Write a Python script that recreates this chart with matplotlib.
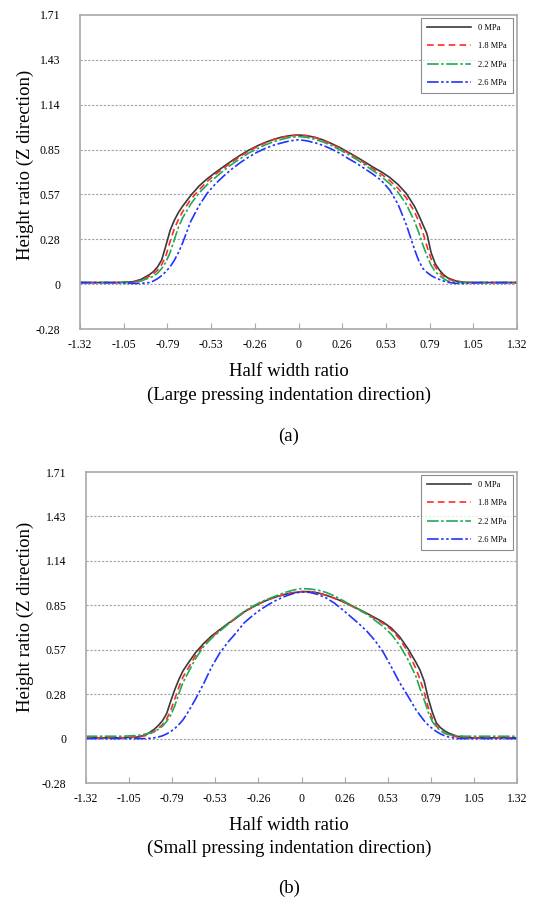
import matplotlib
matplotlib.use("Agg")
import matplotlib.pyplot as plt

# ---------------- data ----------------
x_grid = [-1.32, -1.1, -1.0, -0.95, -0.9, -0.875, -0.85, -0.825, -0.8, -0.775, -0.75, -0.725,
          -0.7, -0.65, -0.6, -0.55, -0.5, -0.45, -0.4, -0.35, -0.3, -0.25, -0.2, -0.15, -0.1, -0.05, 0.0,
          0.05, 0.1, 0.15, 0.2, 0.25, 0.3, 0.35, 0.4, 0.45, 0.5, 0.55, 0.6, 0.65, 0.7, 0.725,
          0.75, 0.775, 0.8, 0.825, 0.85, 0.875, 0.9, 0.95, 1.0, 1.1, 1.32]

labels = ["0 MPa", "1.8 MPa", "2.2 MPa", "2.6 MPa"]

# (a) Large pressing indentation direction
a_0MPa = [0.01, 0.01, 0.015, 0.03, 0.06, 0.08, 0.11, 0.155, 0.245, 0.34, 0.405, 0.455,
          0.495, 0.565, 0.625, 0.672, 0.712, 0.75, 0.787, 0.822, 0.853, 0.88, 0.903, 0.922, 0.937, 0.946, 0.95,
          0.946, 0.935, 0.918, 0.895, 0.87, 0.84, 0.81, 0.778, 0.745, 0.715, 0.68, 0.635, 0.578, 0.495, 0.44,
          0.38, 0.32, 0.20, 0.13, 0.09, 0.06, 0.04, 0.02, 0.012, 0.01, 0.01]
a_18MPa = [0.01, 0.01, 0.012, 0.025, 0.05, 0.065, 0.09, 0.125, 0.18, 0.27, 0.35, 0.41,
           0.46, 0.54, 0.60, 0.655, 0.70, 0.74, 0.778, 0.815, 0.847, 0.875, 0.90, 0.92, 0.935, 0.945, 0.95,
           0.945, 0.933, 0.915, 0.892, 0.865, 0.835, 0.805, 0.77, 0.735, 0.70, 0.66, 0.61, 0.55, 0.46, 0.40,
           0.33, 0.24, 0.16, 0.11, 0.075, 0.05, 0.035, 0.015, 0.01, 0.01, 0.01]
a_22MPa = [0.01, 0.01, 0.01, 0.02, 0.04, 0.05, 0.07, 0.10, 0.14, 0.20, 0.28, 0.36,
           0.42, 0.51, 0.58, 0.635, 0.68, 0.725, 0.765, 0.80, 0.835, 0.862, 0.887, 0.907, 0.923, 0.935, 0.94,
           0.935, 0.922, 0.905, 0.882, 0.855, 0.826, 0.795, 0.76, 0.722, 0.685, 0.64, 0.585, 0.51, 0.40, 0.33,
           0.25, 0.18, 0.12, 0.08, 0.055, 0.035, 0.02, 0.01, 0.01, 0.01, 0.01]
a_26MPa = [0.01, 0.01, 0.005, 0.005, 0.01, 0.02, 0.035, 0.055, 0.08, 0.11, 0.15, 0.20,
           0.26, 0.40, 0.50, 0.58, 0.64, 0.69, 0.735, 0.775, 0.81, 0.84, 0.865, 0.885, 0.90, 0.913, 0.92,
           0.913, 0.90, 0.883, 0.86, 0.833, 0.80, 0.77, 0.735, 0.70, 0.66, 0.60, 0.51, 0.38, 0.22, 0.15,
           0.10, 0.075, 0.055, 0.04, 0.03, 0.02, 0.012, 0.005, 0.005, 0.01, 0.01]

# (b) Small pressing indentation direction
b_0MPa = [0.005, 0.005, 0.01, 0.025, 0.06, 0.085, 0.115, 0.16, 0.24, 0.315, 0.38, 0.435,
          0.475, 0.55, 0.61, 0.66, 0.70, 0.74, 0.775, 0.815, 0.845, 0.872, 0.895, 0.913, 0.928, 0.938, 0.945,
          0.945, 0.937, 0.922, 0.903, 0.882, 0.858, 0.832, 0.805, 0.777, 0.748, 0.71, 0.655, 0.58, 0.49, 0.44,
          0.37, 0.26, 0.17, 0.10, 0.07, 0.05, 0.035, 0.015, 0.005, 0.005, 0.005]
b_18MPa = [0.005, 0.005, 0.01, 0.02, 0.045, 0.065, 0.09, 0.125, 0.18, 0.255, 0.33, 0.395,
           0.44, 0.53, 0.60, 0.652, 0.695, 0.735, 0.775, 0.813, 0.845, 0.872, 0.895, 0.913, 0.928, 0.938, 0.945,
           0.945, 0.937, 0.922, 0.903, 0.881, 0.856, 0.828, 0.80, 0.77, 0.74, 0.70, 0.64, 0.56, 0.45, 0.38,
           0.30, 0.20, 0.13, 0.08, 0.055, 0.035, 0.025, 0.01, 0.005, 0.005, 0.005]
b_22MPa = [0.015, 0.015, 0.02, 0.03, 0.045, 0.06, 0.08, 0.11, 0.15, 0.21, 0.29, 0.36,
           0.41, 0.51, 0.59, 0.645, 0.69, 0.735, 0.78, 0.818, 0.85, 0.878, 0.90, 0.92, 0.94, 0.955, 0.965,
           0.962, 0.955, 0.94, 0.918, 0.89, 0.86, 0.83, 0.80, 0.76, 0.72, 0.67, 0.60, 0.51, 0.40, 0.32,
           0.25, 0.17, 0.11, 0.075, 0.05, 0.035, 0.025, 0.018, 0.015, 0.015, 0.015]
b_26MPa = [0.0, 0.0, 0.0, 0.0, 0.005, 0.01, 0.018, 0.03, 0.045, 0.065, 0.09, 0.12,
           0.16, 0.25, 0.35, 0.46, 0.55, 0.62, 0.68, 0.745, 0.79, 0.83, 0.863, 0.892, 0.915, 0.933, 0.943,
           0.94, 0.927, 0.905, 0.872, 0.83, 0.785, 0.74, 0.69, 0.63, 0.555, 0.46, 0.36, 0.275, 0.185, 0.15,
           0.115, 0.087, 0.065, 0.045, 0.03, 0.018, 0.01, 0.0, 0.0, 0.0, 0.0]

x_ticks = [-1.318, -1.0544, -0.7908, -0.5272, -0.2636, 0.0, 0.2636, 0.5272, 0.7908, 1.0544, 1.318]
x_ticklabels = ["-1.32", "-1.05", "-0.79", "-0.53", "-0.26", "0", "0.26", "0.53", "0.79", "1.05", "1.32"]
y_ticks = [-0.2857, 0.0, 0.2857, 0.5714, 0.8571, 1.1429, 1.4286, 1.7143]
y_ticklabels = ["-0.28", "0", "0.28", "0.57", "0.85", "1.14", "1.43", "1.71"]

# ---------------- style ----------------
plt.rcParams['font.family'] = ['Liberation Serif', 'DejaVu Serif']
W, H = 534, 905
fig = plt.figure(figsize=(W / 100, H / 100), dpi=100)

styles = [
    dict(color='#3a3a3a', lw=1.2, ls='-'),
    dict(color='#ff2a2a', lw=1.2, ls=(0, (4, 2.5))),
    dict(color='#1faa55', lw=1.2, ls=(0, (7, 1.5, 1.5, 1.5))),
    dict(color='#2233ff', lw=1.2, ls=(0, (7, 1.5, 1.5, 1.5, 1.5, 1.5))),
]
spine_col = '#a8a8a8'


def make_axes(rect, series, xlabel2, caption, ylab_y, lab_y1, lab_y2, cap_y):
    ax = fig.add_axes(rect)
    for ys, st, lab in zip(series, styles, labels):
        ax.plot(x_grid, ys, label=lab, **st)
    ax.set_xlim(-1.318, 1.318)
    ax.set_ylim(-0.2857, 1.7143)
    ax.set_xticks(x_ticks)
    ax.set_xticklabels(x_ticklabels, fontsize=8.5)
    ax.set_yticks(y_ticks)
    ax.set_yticklabels(y_ticklabels, fontsize=8.5)
    ax.tick_params(axis='x', direction='in', length=4, width=0.8, color=spine_col, pad=7)
    ax.tick_params(axis='y', length=0, pad=14)
    for yv in y_ticks[1:-1]:
        ax.axhline(yv, color='#a0a0a0', lw=0.8, ls=(0, (2, 1.5)), zorder=0)
    for s in ax.spines.values():
        s.set_color(spine_col)
        s.set_linewidth(1.2)
    leg = ax.legend(loc='upper right', fontsize=6, frameon=True, fancybox=False,
                    edgecolor='#707070', handlelength=5.2, handletextpad=0.9, borderpad=0.7,
                    labelspacing=1.25, borderaxespad=0, bbox_to_anchor=(0.99, 0.99))
    leg.get_frame().set_linewidth(0.8)
    fig.text(25 / W, 1 - ylab_y / H, "Height ratio (Z direction)", rotation=90,
             ha='center', va='center', fontsize=13.5)
    fig.text(289 / W, 1 - lab_y1 / H, "Half width ratio", ha='center', va='center', fontsize=13.5)
    fig.text(289 / W, 1 - lab_y2 / H, xlabel2, ha='center', va='center', fontsize=13.5)
    fig.text(289 / W, 1 - cap_y / H, caption, ha='center', va='center', fontsize=13.5)
    return ax


make_axes([80 / W, 1 - 329 / H, (517 - 80) / W, (329 - 15) / H],
          [a_0MPa, a_18MPa, a_22MPa, a_26MPa],
          "(Large pressing indentation direction)", "(a)", 165, 372, 395, 436)
make_axes([86 / W, 1 - 783 / H, (517 - 86) / W, (783 - 472) / H],
          [b_0MPa, b_18MPa, b_22MPa, b_26MPa],
          "(Small pressing indentation direction)", "(b)", 617, 825, 848, 888)

fig.savefig("out.png", dpi=100)
